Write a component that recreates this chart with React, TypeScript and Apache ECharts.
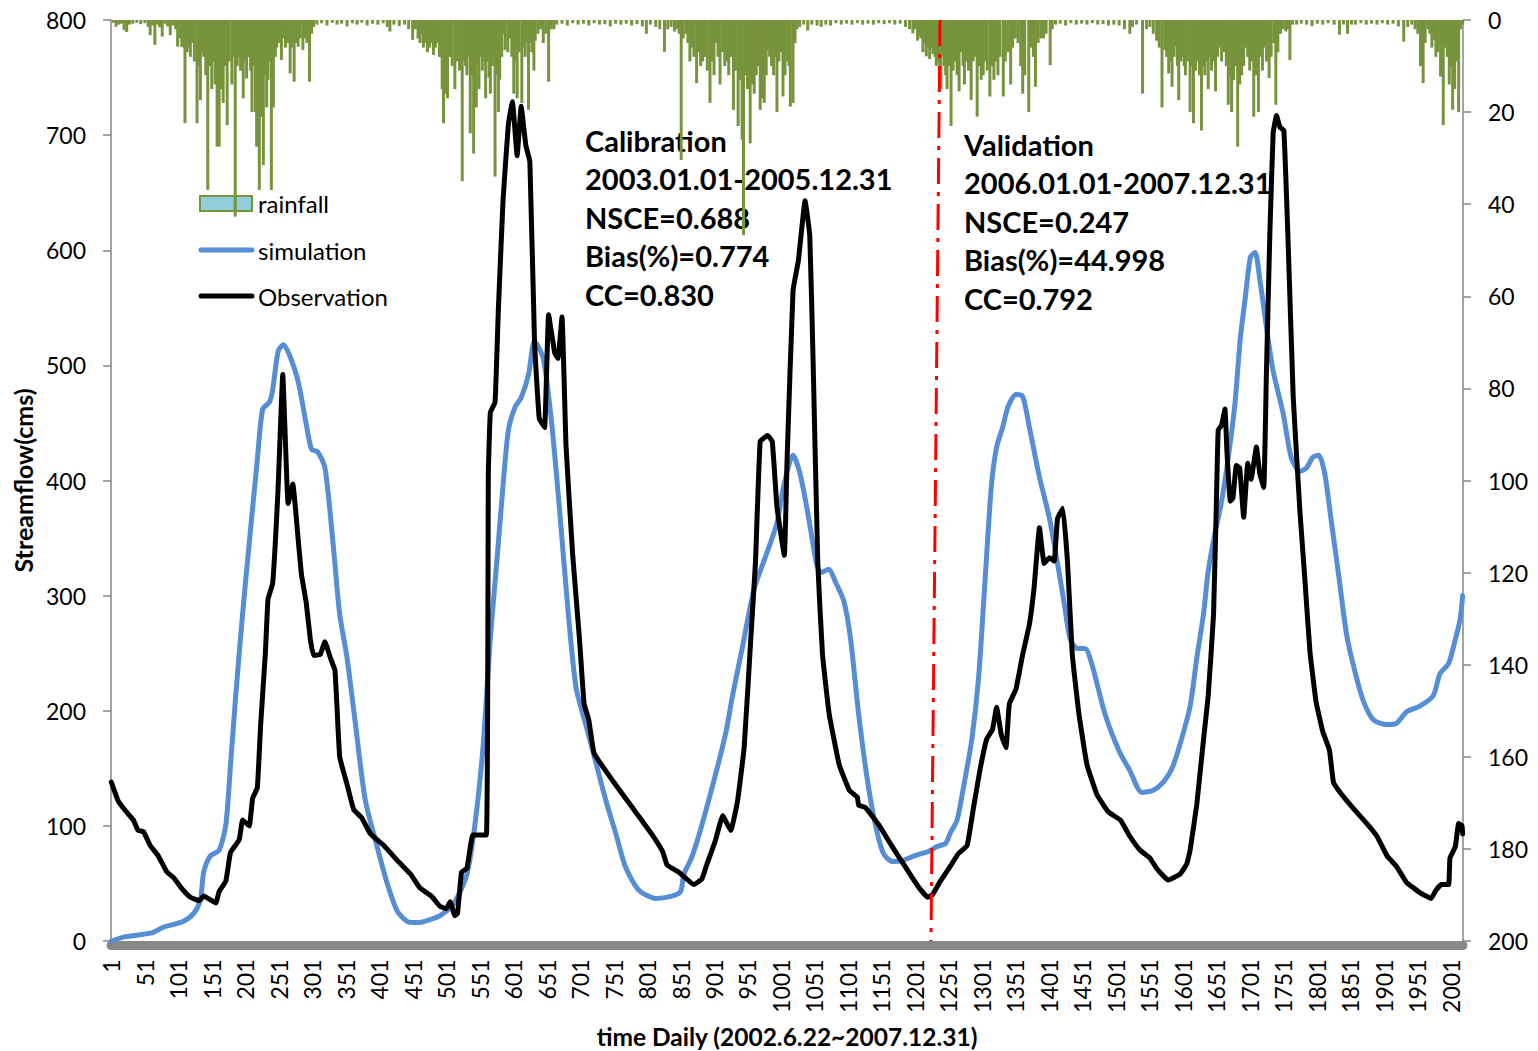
import React, { useEffect, useRef } from "react";
import * as echarts from "echarts";

// Day index (1 = 2002-06-22) and value pairs.
const simulation: [number, number][] = [
  [1, 0], [21, 3.6], [61, 7], [79, 12], [108, 17], [124, 24], [134, 36], [139, 60], [149, 74], [162, 79],
  [172, 101], [179, 153], [187, 215], [197, 284], [207, 346], [219, 418], [227, 462], [237, 468], [242, 479],
  [250, 512], [258, 518], [267, 509], [280, 486], [292, 449], [300, 427], [309, 425], [320, 411], [332, 346],
  [342, 284], [353, 246], [365, 191], [380, 123], [397, 84], [413, 50], [428, 26], [443, 17], [459, 16],
  [479, 19], [492, 22], [512, 32], [532, 58], [544, 101], [556, 168], [567, 263], [576, 325], [586, 396],
  [594, 444], [604, 464], [613, 472], [624, 492], [633, 521], [646, 506], [658, 453], [670, 377], [683, 287],
  [695, 220], [710, 187], [725, 154], [740, 121], [755, 92], [769, 64], [789, 44], [814, 37], [838, 39],
  [851, 43], [856, 58], [868, 73], [883, 101], [903, 144], [919, 182], [928, 211], [943, 254], [961, 306],
  [978, 334], [995, 363], [1005, 395], [1019, 422], [1029, 407], [1041, 372], [1054, 328], [1061, 320],
  [1072, 323], [1083, 311], [1095, 295], [1105, 262], [1117, 197], [1130, 140], [1142, 101], [1154, 76],
  [1168, 69], [1183, 70], [1200, 74], [1222, 78], [1234, 82], [1247, 85], [1254, 94], [1264, 105], [1274, 135],
  [1286, 175], [1296, 228], [1305, 306], [1315, 394], [1323, 429], [1332, 446], [1340, 464], [1352, 475],
  [1362, 473], [1372, 446], [1387, 403], [1402, 367], [1414, 328], [1424, 293], [1433, 262], [1444, 254],
  [1455, 254], [1465, 241], [1485, 197], [1506, 165], [1522, 148], [1540, 129], [1557, 131], [1572, 138],
  [1585, 150], [1597, 171], [1612, 204], [1622, 246], [1632, 284], [1639, 321], [1649, 354], [1659, 382],
  [1669, 420], [1679, 467], [1687, 524], [1694, 557], [1702, 594], [1709, 598], [1716, 575], [1726, 533],
  [1736, 495], [1751, 458], [1763, 420], [1776, 408], [1786, 411], [1795, 420], [1804, 422], [1813, 406],
  [1823, 364], [1834, 317], [1846, 265], [1859, 232], [1871, 208], [1886, 192], [1906, 188], [1920, 189],
  [1935, 199], [1955, 204], [1975, 213], [1985, 232], [1998, 241], [2008, 262], [2015, 279], [2019, 300],
];

const observation: [number, number][] = [
  [1, 138], [11, 122], [21, 114], [34, 105], [41, 96], [49, 95], [59, 83], [71, 74], [84, 60], [94, 55],
  [107, 45], [119, 38], [132, 35], [139, 39], [157, 33], [162, 43], [172, 52], [179, 77], [192, 88], [197, 105],
  [207, 100], [212, 124], [219, 133], [224, 188], [231, 250], [235, 297], [242, 311], [250, 393], [257, 492],
  [265, 380], [272, 397], [280, 349], [285, 318], [292, 294], [298, 263], [303, 248], [313, 249], [320, 260],
  [328, 246], [335, 235], [342, 160], [353, 136], [363, 114], [375, 107], [388, 93], [408, 83], [428, 70],
  [448, 58], [462, 46], [479, 39], [492, 30], [501, 28], [507, 34], [514, 22], [518, 24], [524, 60], [532, 63],
  [541, 92], [561, 92], [564, 406], [567, 459], [574, 468], [579, 549], [586, 644], [594, 710], [600, 729],
  [607, 682], [613, 725], [620, 691], [626, 677], [633, 520], [640, 454], [648, 446], [654, 544], [663, 511],
  [668, 506], [674, 542], [680, 430], [690, 335], [700, 263], [707, 206], [714, 192], [722, 163], [750, 139],
  [779, 116], [809, 92], [824, 78], [831, 66], [848, 60], [871, 49], [883, 54], [890, 66], [903, 87], [914, 109],
  [926, 96], [936, 121], [946, 168], [956, 263], [963, 330], [970, 434], [981, 439], [988, 434], [995, 377],
  [1006, 335], [1010, 416], [1019, 565], [1027, 591], [1037, 643], [1044, 613], [1049, 503], [1056, 328],
  [1063, 249], [1073, 197], [1088, 153], [1103, 131], [1115, 125], [1117, 118], [1127, 116], [1147, 101],
  [1166, 83], [1186, 65], [1205, 48], [1220, 38], [1227, 40], [1239, 52], [1254, 65], [1266, 76], [1279, 83],
  [1288, 114], [1298, 148], [1308, 175], [1317, 184], [1323, 203], [1330, 179], [1337, 168], [1342, 206],
  [1352, 219], [1362, 249], [1372, 275], [1379, 307], [1387, 359], [1394, 328], [1402, 333], [1409, 330],
  [1414, 367], [1422, 376], [1429, 328], [1436, 249], [1446, 197], [1458, 153], [1473, 127], [1490, 112],
  [1508, 105], [1522, 91], [1537, 79], [1552, 72], [1562, 63], [1579, 53], [1597, 58], [1607, 67], [1612, 79],
  [1622, 119], [1632, 175], [1639, 213], [1647, 284], [1652, 401], [1654, 444], [1659, 448], [1664, 462],
  [1667, 425], [1672, 382], [1676, 385], [1681, 413], [1686, 411], [1692, 368], [1698, 415], [1703, 401],
  [1711, 429], [1716, 406], [1722, 394], [1726, 495], [1731, 613], [1736, 702], [1741, 717], [1746, 707],
  [1752, 704], [1758, 613], [1766, 472], [1776, 373], [1783, 317], [1791, 251], [1800, 208], [1810, 182],
  [1820, 166], [1826, 138], [1836, 129], [1856, 115], [1876, 102], [1891, 91], [1906, 74], [1920, 65],
  [1935, 51], [1955, 42], [1972, 37], [1979, 44], [1987, 49], [1998, 49], [2000, 72], [2008, 82], [2013, 102],
  [2018, 100], [2019, 93],
];

// Daily rainfall (mm), day index and depth.
const rainfall: [number, number][] = [
  [4, 0.6], [8, 1.5], [12, 1], [16, 0.8], [20, 2.2], [24, 2.6], [28, 1], [33, 0.8], [39, 0.6], [45, 0.9],
  [51, 0.7], [56, 1.5], [59, 3.3], [63, 1.2], [66, 5.4], [70, 1], [73, 1.6], [77, 3.6], [81, 0.8], [85, 1.4],
  [89, 3.3], [93, 1.2], [97, 2], [100, 5.8], [103, 4], [106, 5.8], [109, 6], [111, 22.4], [114, 7], [116, 6],
  [119, 8], [122, 5], [125, 9], [129, 22.4], [132, 10], [134, 17.4], [137, 7], [139, 8], [142, 12], [145, 36.9],
  [148, 10], [151, 15], [154, 9], [156, 14], [159, 27.5], [162, 27.5], [165, 15], [168, 18], [171, 10],
  [174, 22.8], [177, 9], [181, 14], [184, 8], [186, 42.7], [189, 10], [191, 8], [194, 11], [198, 17], [201, 9],
  [203, 12.7], [206, 8], [209, 11], [211, 20], [214, 10], [216, 20], [218, 27.5], [222, 36.9], [225, 21],
  [228, 31.5], [231, 12], [233, 19], [235, 13], [238, 9], [240, 36.9], [243, 19], [246, 8], [248, 6], [251, 5],
  [255, 8.7], [258, 4], [261, 6], [264, 5], [268, 11.6], [271, 6], [274, 13.4], [277, 5], [280, 5.8], [283, 4],
  [287, 6.5], [290, 4], [293, 5], [297, 13.4], [300, 3], [303, 1.5], [308, 1], [315, 0.7], [323, 1.2],
  [331, 0.6], [338, 1], [345, 0.8], [353, 1.4], [361, 0.7], [368, 1], [375, 0.6], [383, 1.2], [391, 0.8],
  [399, 1], [407, 0.7], [413, 1.5], [417, 2.5], [423, 1], [431, 1.3], [439, 1], [445, 2], [451, 4.3], [455, 2],
  [459, 4], [462, 5], [464, 3], [467, 6], [470, 5], [473, 7], [476, 6], [479, 5], [482, 7.6], [485, 6], [488, 5],
  [491, 8], [495, 15], [497, 22.4], [500, 16], [503, 17], [507, 8], [510, 10], [514, 15], [517, 9], [521, 11],
  [525, 35], [527, 9], [530, 10], [532, 12], [535, 8], [537, 24.6], [540, 12], [542, 29], [544, 10], [546, 19],
  [548, 9], [550, 15], [552, 8], [555, 11], [557, 9], [560, 17], [562, 9], [565, 12.5], [567, 16], [570, 10],
  [572, 8], [574, 34], [577, 12], [579, 20], [581, 13], [584, 8], [586, 3], [589, 6.5], [593, 7], [596, 4],
  [599, 8], [602, 16], [605, 9], [607, 17], [610, 7], [614, 18], [617, 6], [619, 8], [622, 5], [624, 19.5],
  [627, 5], [629, 7], [632, 11], [634, 4.5], [638, 3], [642, 2], [646, 5], [650, 3], [654, 13.4], [658, 2],
  [662, 2], [666, 1], [674, 0.8], [682, 1.2], [690, 0.7], [698, 1], [706, 0.8], [714, 1.2], [722, 0.7],
  [730, 1], [738, 0.9], [746, 1.4], [754, 0.8], [762, 1], [770, 0.8], [778, 1.2], [786, 0.9], [794, 1.4],
  [800, 3], [806, 1], [814, 1.5], [820, 2], [827, 6.9], [832, 2], [837, 1.5], [842, 2.5], [846, 2], [849, 3],
  [852, 30.4], [855, 4], [859, 3], [862, 5], [865, 9], [868, 6], [871, 8], [875, 13.7], [878, 7], [881, 10],
  [884, 9], [888, 8], [891, 11], [895, 18], [898, 9], [901, 12], [904, 5], [907, 8], [910, 14], [914, 7],
  [917, 10], [920, 9], [923, 12], [926, 8], [930, 19.5], [933, 11], [937, 23], [940, 13], [943, 26], [945, 46.7],
  [948, 12], [951, 15], [955, 26.8], [958, 14], [961, 16], [964, 12], [967, 10], [970, 19.5], [973, 17],
  [976, 18], [979, 12], [981, 6.5], [984, 8], [987, 10], [990, 12], [993, 8], [995, 20], [998, 9], [1001, 7],
  [1004, 16.6], [1007, 12], [1010, 9], [1013, 10], [1015, 18.8], [1019, 18], [1022, 5], [1025, 2], [1029, 1.5],
  [1035, 1], [1041, 2.3], [1047, 1], [1055, 1.2], [1061, 1.5], [1068, 1], [1075, 1.2], [1083, 0.7], [1091, 1],
  [1099, 0.8], [1107, 1], [1115, 0.7], [1123, 1], [1131, 0.8], [1139, 1], [1147, 0.7], [1155, 0.9], [1163, 0.7],
  [1171, 1], [1179, 0.8], [1187, 1.5], [1193, 2], [1198, 2.9], [1201, 2], [1205, 4.5], [1208, 3.5], [1210, 4],
  [1213, 7], [1216, 5], [1218, 7.9], [1221, 6], [1223, 8.5], [1226, 6], [1228, 7.4], [1231, 8], [1233, 10],
  [1236, 9], [1238, 11], [1240, 15], [1243, 8], [1245, 10], [1247, 12], [1249, 15], [1252, 10], [1255, 23],
  [1258, 11], [1261, 9], [1264, 12], [1267, 15.5], [1270, 7], [1273, 10], [1275, 14], [1278, 9], [1281, 11],
  [1285, 17.4], [1288, 9], [1291, 8], [1294, 21], [1297, 10], [1300, 13], [1303, 12], [1306, 9], [1309, 11],
  [1313, 16.6], [1316, 10], [1319, 13], [1322, 9], [1325, 12], [1328, 8], [1333, 16.6], [1336, 9], [1340, 7],
  [1344, 14], [1347, 6], [1351, 4], [1355, 5], [1359, 10], [1362, 16], [1365, 12], [1371, 20], [1374, 6],
  [1378, 8], [1381, 14.5], [1385, 5], [1389, 4], [1393, 4], [1397, 3], [1403, 9.8], [1406, 2], [1411, 1],
  [1418, 0.8], [1426, 1.2], [1434, 0.7], [1442, 1], [1450, 0.8], [1458, 1], [1466, 0.7], [1474, 1], [1482, 0.9],
  [1490, 1.2], [1498, 1], [1506, 1.2], [1514, 2], [1522, 3], [1526, 1.5], [1532, 1], [1541, 16], [1547, 2],
  [1552, 1.5], [1557, 3], [1562, 4.5], [1566, 6], [1570, 19], [1574, 6.5], [1577, 8], [1580, 11.6], [1583, 9],
  [1585, 14.5], [1588, 8], [1590, 5.8], [1593, 10], [1595, 17.4], [1598, 9], [1600, 8], [1603, 10], [1605, 12],
  [1608, 9], [1612, 20], [1615, 10], [1617, 22.4], [1620, 11], [1623, 9], [1626, 12], [1629, 24], [1632, 10],
  [1634, 12], [1637, 9], [1639, 15], [1642, 8], [1644, 11], [1647, 9], [1650, 15.5], [1653, 8], [1656, 6],
  [1659, 9], [1662, 7], [1666, 10], [1669, 18.4], [1672, 12], [1674, 20], [1677, 13], [1680, 10], [1683, 27.5],
  [1686, 14], [1689, 12], [1692, 10], [1695, 6], [1698, 8], [1701, 11], [1704, 9], [1707, 21], [1710, 12],
  [1714, 20], [1717, 8], [1720, 11], [1723, 6], [1726, 9], [1730, 12.6], [1733, 8], [1737, 5], [1740, 18.4],
  [1743, 7], [1747, 3], [1751, 2], [1755, 2.5], [1758, 2], [1761, 8.7], [1765, 1], [1771, 1], [1778, 0.8],
  [1786, 1], [1794, 1.3], [1802, 0.8], [1810, 1], [1818, 0.7], [1827, 1], [1835, 3.2], [1841, 1], [1847, 3],
  [1853, 1], [1859, 1], [1867, 0.7], [1875, 1], [1883, 0.8], [1891, 1], [1899, 0.7], [1907, 1], [1915, 0.8],
  [1923, 1.4], [1931, 4.7], [1937, 1.5], [1943, 1], [1948, 2], [1952, 3], [1956, 10], [1960, 13.7], [1963, 5],
  [1967, 2], [1970, 3], [1973, 6], [1976, 4.3], [1979, 8], [1982, 7], [1986, 12.3], [1990, 22.8], [1993, 6],
  [1996, 8], [1999, 14], [2002, 10], [2004, 19.5], [2007, 15], [2010, 9], [2013, 20], [2016, 2], [2019, 1],
];

const xTickLabels = [
  1, 51, 101, 151, 201, 251, 301, 351, 401, 451, 501, 551, 601, 651, 701, 751, 801, 851, 901, 951, 1001,
  1051, 1101, 1151, 1201, 1251, 1301, 1351, 1401, 1451, 1501, 1551, 1601, 1651, 1701, 1751, 1801, 1851,
  1901, 1951, 2001,
];

// Calibration / validation split line (day at top and at bottom of the plot).
const splitTop: [number, number] = [1238.5, 800];
const splitBottom: [number, number] = [1225, 0];

const calibrationText = ["Calibration", "2003.01.01-2005.12.31", "NSCE=0.688", "Bias(%)=0.774", "CC=0.830"];
const validationText = ["Validation", "2006.01.01-2007.12.31", "NSCE=0.247", "Bias(%)=44.998", "CC=0.792"];

const FONT = "Lato";
const GREEN = "#77933C";
const BLUE = "#558ED5";

export default function App() {
  const ref = useRef<HTMLDivElement>(null);

  useEffect(() => {
    if (!ref.current) return;
    const chart = echarts.init(ref.current, null, { renderer: "svg" });
    const axisGrey = "#868686";
    const tickText = { color: "#000", fontFamily: FONT, fontSize: 23 };
    const titleText = { color: "#000", fontFamily: FONT, fontWeight: "bold" as const };

    chart.setOption({
      animation: false,
      backgroundColor: "#ffffff",
      grid: { left: 111, right: 75, top: 20, bottom: 110, containLabel: false, outerBoundsMode: "none" },
      xAxis: {
        type: "value",
        min: 0.5,
        max: 2019.5,
        offset: 4.5,
        axisLine: { show: true, onZero: false, lineStyle: { color: "#888888", width: 9 } },
        axisTick: { show: false },
        splitLine: { show: false },
        axisLabel: {
          ...tickText,
          rotate: 90,
          margin: 14,
          customValues: xTickLabels,
          formatter: (v: number) => String(v),
        },
        name: "time Daily (2002.6.22~2007.12.31)",
        nameLocation: "middle",
        nameGap: 78,
        nameTextStyle: { ...titleText, fontSize: 24.5 },
      },
      yAxis: [
        {
          type: "value",
          min: 0,
          max: 800,
          interval: 100,
          position: "left",
          axisLine: { show: true, lineStyle: { color: axisGrey, width: 1.5 } },
          axisTick: { show: true, length: 8, lineStyle: { color: axisGrey, width: 1.5 } },
          splitLine: { show: false },
          axisLabel: { ...tickText, margin: 25 },
          name: "Streamflow(cms)",
          nameLocation: "middle",
          nameGap: 76,
          nameTextStyle: { ...titleText, fontSize: 25 },
        },
        {
          type: "value",
          min: 0,
          max: 200,
          interval: 20,
          inverse: true,
          position: "right",
          axisLine: { show: true, lineStyle: { color: axisGrey, width: 1.5 } },
          axisTick: { show: true, length: 8, lineStyle: { color: axisGrey, width: 1.5 } },
          splitLine: { show: false },
          axisLabel: { ...tickText, margin: 25 },
        },
      ],
      series: [
        {
          name: "rainfall",
          type: "bar",
          xAxisIndex: 0,
          yAxisIndex: 1,
          data: rainfall,
          barWidth: 3,
          itemStyle: { color: GREEN },
          silent: true,
          z: 1,
        },
        {
          name: "simulation",
          type: "line",
          yAxisIndex: 0,
          data: simulation,
          symbol: "none",
          showSymbol: false,
          smooth: 0.25,
          lineStyle: { color: BLUE, width: 5, cap: "round", join: "round" },
          z: 2,
        },
        {
          name: "Observation",
          type: "line",
          yAxisIndex: 0,
          data: observation,
          symbol: "none",
          showSymbol: false,
          smooth: 0.1,
          lineStyle: { color: "#000000", width: 5, cap: "round", join: "round" },
          z: 3,
          markLine: {
            silent: true,
            symbol: ["none", "none"],
            label: { show: false },
            lineStyle: { color: "#FF0000", width: 3, type: [26, 8, 4, 8] },
            data: [[{ coord: splitTop }, { coord: splitBottom }]],
          },
        },
      ],
      graphic: [
        {
          type: "rect",
          shape: { x: 200, y: 196, width: 52, height: 15 },
          style: { fill: "#92CDDC", stroke: GREEN, lineWidth: 2 },
        },
        {
          type: "line",
          shape: { x1: 201, y1: 250, x2: 252, y2: 250 },
          style: { stroke: BLUE, lineWidth: 5, lineCap: "round" },
        },
        {
          type: "line",
          shape: { x1: 201, y1: 296, x2: 252, y2: 296 },
          style: { stroke: "#000", lineWidth: 5, lineCap: "round" },
        },
        {
          type: "text",
          x: 258,
          y: 203,
          style: { text: "rainfall", font: `24px ${FONT}`, fill: "#000", verticalAlign: "middle" },
        },
        {
          type: "text",
          x: 258,
          y: 250,
          style: { text: "simulation", font: `24px ${FONT}`, fill: "#000", verticalAlign: "middle" },
        },
        {
          type: "text",
          x: 258,
          y: 296,
          style: { text: "Observation", font: `24px ${FONT}`, fill: "#000", verticalAlign: "middle" },
        },
        {
          type: "text",
          x: 585,
          y: 121,
          style: {
            text: calibrationText.join("\n"),
            font: `bold 29px ${FONT}`,
            fill: "#000",
            lineHeight: 38.5,
            verticalAlign: "top",
          },
        },
        {
          type: "text",
          x: 964,
          y: 125,
          style: {
            text: validationText.join("\n"),
            font: `bold 29px ${FONT}`,
            fill: "#000",
            lineHeight: 38.5,
            verticalAlign: "top",
          },
        },
      ],
    });

    return () => chart.dispose();
  }, []);

  return (
    <div
      ref={ref}
      style={{ position: "absolute", left: 0, top: 0, width: 1538, height: 1051, background: "#fff" }}
    />
  );
}
